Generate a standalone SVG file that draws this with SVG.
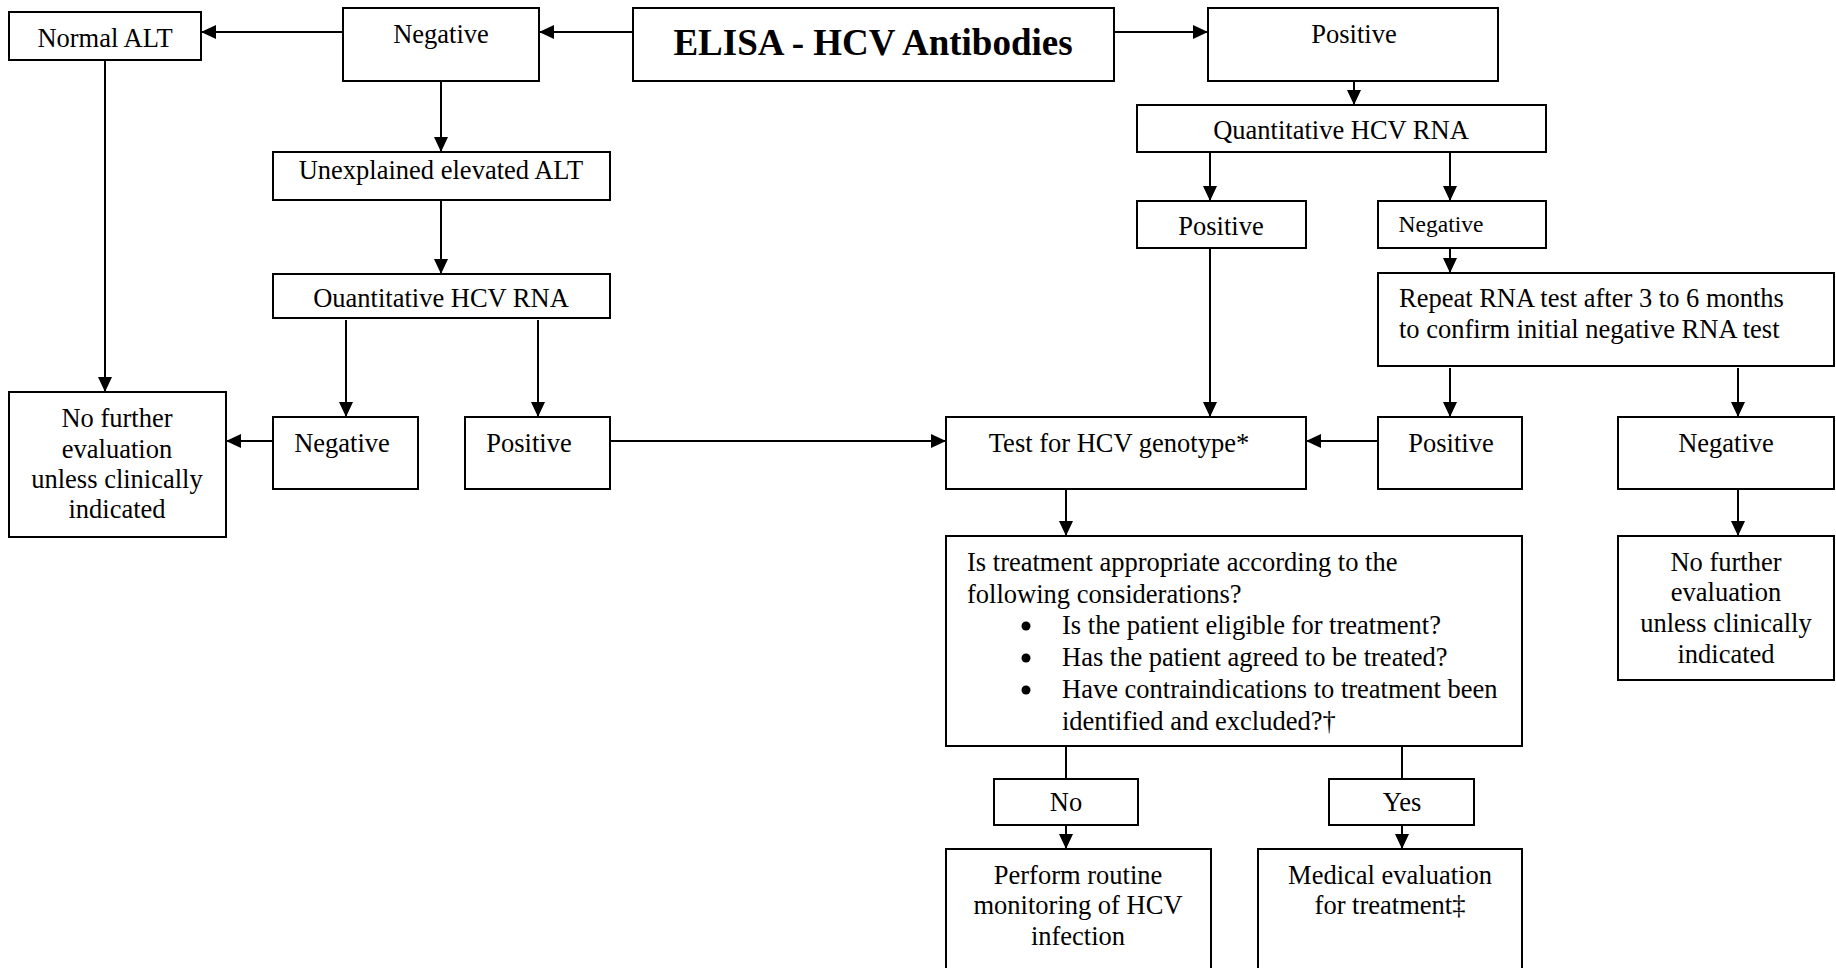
<svg xmlns="http://www.w3.org/2000/svg" width="1836" height="968" viewBox="0 0 1836 968">
<style>
rect.b{fill:#fff;stroke:#000;stroke-width:2}
text{font-family:"Liberation Serif","Times New Roman",serif;font-size:26.5px;fill:#000}
text.c{text-anchor:middle}
text.t{font-size:37px;font-weight:bold}
text.s{font-size:23.5px}
.ln{stroke:#000;stroke-width:2;fill:none}
.ar{marker-end:url(#ah)}
</style>
<defs>
<marker id="ah" markerUnits="userSpaceOnUse" markerWidth="16" markerHeight="14" refX="15" refY="7" orient="auto">
<path d="M0,0 L15,7 L0,14 Z" fill="#000"/>
</marker>
</defs>
<rect width="1836" height="968" fill="#fff"/>
<g id="connectors">
<line class="ln ar" x1="633" y1="32" x2="539" y2="32"/>
<line class="ln ar" x1="343" y1="32" x2="201" y2="32"/>
<line class="ln ar" x1="1114" y1="32" x2="1208" y2="32"/>
<line class="ln ar" x1="105" y1="60" x2="105" y2="392"/>
<line class="ln ar" x1="441" y1="81" x2="441" y2="152"/>
<line class="ln ar" x1="441" y1="200" x2="441" y2="274"/>
<line class="ln ar" x1="346" y1="320" x2="346" y2="417"/>
<line class="ln ar" x1="538" y1="320" x2="538" y2="417"/>
<line class="ln ar" x1="273" y1="441" x2="226" y2="441"/>
<line class="ln ar" x1="610" y1="441" x2="946" y2="441"/>
<line class="ln ar" x1="1354" y1="81" x2="1354" y2="105"/>
<line class="ln ar" x1="1210" y1="152" x2="1210" y2="201"/>
<line class="ln ar" x1="1450" y1="152" x2="1450" y2="201"/>
<line class="ln ar" x1="1450" y1="248" x2="1450" y2="273"/>
<line class="ln ar" x1="1210" y1="248" x2="1210" y2="417"/>
<line class="ln ar" x1="1450" y1="368" x2="1450" y2="417"/>
<line class="ln ar" x1="1738" y1="368" x2="1738" y2="417"/>
<line class="ln ar" x1="1378" y1="441" x2="1306" y2="441"/>
<line class="ln ar" x1="1066" y1="489" x2="1066" y2="536"/>
<line class="ln ar" x1="1738" y1="489" x2="1738" y2="536"/>
<line class="ln" x1="1066" y1="746" x2="1066" y2="779"/>
<line class="ln" x1="1402" y1="746" x2="1402" y2="779"/>
<line class="ln ar" x1="1066" y1="825" x2="1066" y2="849"/>
<line class="ln ar" x1="1402" y1="825" x2="1402" y2="849"/>
</g>
<g id="normal-alt"><rect class="b" x="9" y="12" width="192" height="48"/><text class="c" x="105" y="47">Normal ALT</text></g>
<g id="negative-top"><rect class="b" x="343" y="8" width="196" height="73"/><text class="c" x="441" y="43">Negative</text></g>
<g id="elisa"><rect class="b" x="633" y="8" width="481" height="73"/><text class="c t" x="873" y="55">ELISA - HCV Antibodies</text></g>
<g id="positive-top"><rect class="b" x="1208" y="8" width="290" height="73"/><text class="c" x="1354" y="43">Positive</text></g>
<g id="quant-right"><rect class="b" x="1137" y="105" width="409" height="47"/><text class="c" x="1341" y="139">Quantitative HCV RNA</text></g>
<g id="unexplained"><rect class="b" x="273" y="152" width="337" height="48"/><text class="c" x="441" y="179">Unexplained elevated ALT</text></g>
<g id="positive-mid"><rect class="b" x="1137" y="201" width="169" height="47"/><text class="c" x="1221" y="235">Positive</text></g>
<g id="negative-mid"><rect class="b" x="1378" y="201" width="168" height="47"/><text class="c s" x="1441" y="232">Negative</text></g>
<g id="quant-left"><rect class="b" x="273" y="274" width="337" height="44"/><text class="c" x="441" y="307">Ouantitative HCV RNA</text></g>
<g id="repeat"><rect class="b" x="1378" y="273" width="456" height="93"/><text x="1399" y="307">Repeat RNA test after 3 to 6 months</text><text x="1399" y="338">to confirm initial negative RNA test</text></g>
<g id="no-further-left"><rect class="b" x="9" y="392" width="217" height="145"/><text class="c" x="117" y="427">No further</text><text class="c" x="117" y="458">evaluation</text><text class="c" x="117" y="488">unless clinically</text><text class="c" x="117" y="518">indicated</text></g>
<g id="negative-low-left"><rect class="b" x="273" y="417" width="145" height="72"/><text class="c" x="342" y="452">Negative</text></g>
<g id="positive-low-left"><rect class="b" x="465" y="417" width="145" height="72"/><text class="c" x="529" y="452">Positive</text></g>
<g id="genotype"><rect class="b" x="946" y="417" width="360" height="72"/><text class="c" x="1119" y="452">Test for HCV genotype*</text></g>
<g id="positive-low-right"><rect class="b" x="1378" y="417" width="144" height="72"/><text class="c" x="1451" y="452">Positive</text></g>
<g id="negative-low-right"><rect class="b" x="1618" y="417" width="216" height="72"/><text class="c" x="1726" y="452">Negative</text></g>
<g id="question"><rect class="b" x="946" y="536" width="576" height="210"/>
<text x="967" y="571">Is treatment appropriate according to the</text>
<text x="967" y="603">following considerations?</text>
<circle cx="1026" cy="626" r="4.5"/><text x="1062" y="634">Is the patient eligible for treatment?</text>
<circle cx="1026" cy="658" r="4.5"/><text x="1062" y="666">Has the patient agreed to be treated?</text>
<circle cx="1026" cy="690" r="4.5"/><text x="1062" y="698">Have contraindications to treatment been</text>
<text x="1062" y="730">identified and excluded?†</text></g>
<g id="no-further-right"><rect class="b" x="1618" y="536" width="216" height="144"/><text class="c" x="1726" y="571">No further</text><text class="c" x="1726" y="601">evaluation</text><text class="c" x="1726" y="632">unless clinically</text><text class="c" x="1726" y="663">indicated</text></g>
<g id="no"><rect class="b" x="994" y="779" width="144" height="46"/><text class="c" x="1066" y="811">No</text></g>
<g id="yes"><rect class="b" x="1329" y="779" width="145" height="46"/><text class="c" x="1402" y="811">Yes</text></g>
<g id="perform"><rect class="b" x="946" y="849" width="265" height="125"/><text class="c" x="1078" y="884">Perform routine</text><text class="c" x="1078" y="914">monitoring of HCV</text><text class="c" x="1078" y="945">infection</text></g>
<g id="medical"><rect class="b" x="1258" y="849" width="264" height="125"/><text class="c" x="1390" y="884">Medical evaluation</text><text class="c" x="1390" y="914">for treatment‡</text></g>
</svg>
